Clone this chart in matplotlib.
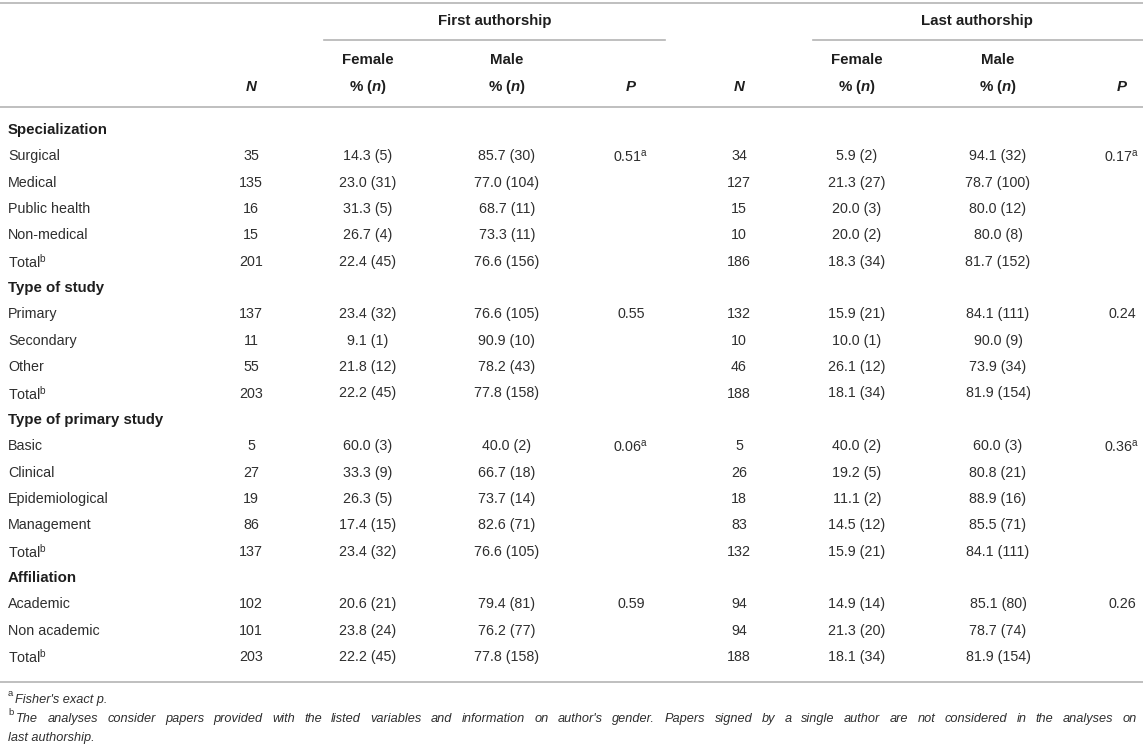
import matplotlib
matplotlib.use("Agg")
import matplotlib.pyplot as plt

plt.rcParams['font.family'] = ['Liberation Sans', 'DejaVu Sans']
plt.rcParams['mathtext.fontset'] = 'custom'
plt.rcParams['mathtext.rm'] = 'Liberation Sans'
plt.rcParams['mathtext.it'] = 'Liberation Sans:italic'
plt.rcParams['mathtext.bf'] = 'Liberation Sans:bold'
plt.rcParams['mathtext.bfit'] = 'Liberation Sans:bold:italic'

# table content
groups = ["First authorship", "Last authorship"]
sub_headers = ["Female", "Male"]

row_labels = ["Specialization", "Surgical", "Medical", "Public health", "Non-medical", "Total^b",
              "Type of study", "Primary", "Secondary", "Other", "Total^b",
              "Type of primary study", "Basic", "Clinical", "Epidemiological", "Management", "Total^b",
              "Affiliation", "Academic", "Non academic", "Total^b"]
section_rows = [0, 6, 11, 17]

n_first = ["", "35", "135", "16", "15", "201", "", "137", "11", "55", "203",
           "", "5", "27", "19", "86", "137", "", "102", "101", "203"]
female_first = ["", "14.3 (5)", "23.0 (31)", "31.3 (5)", "26.7 (4)", "22.4 (45)",
                "", "23.4 (32)", "9.1 (1)", "21.8 (12)", "22.2 (45)",
                "", "60.0 (3)", "33.3 (9)", "26.3 (5)", "17.4 (15)", "23.4 (32)",
                "", "20.6 (21)", "23.8 (24)", "22.2 (45)"]
male_first = ["", "85.7 (30)", "77.0 (104)", "68.7 (11)", "73.3 (11)", "76.6 (156)",
              "", "76.6 (105)", "90.9 (10)", "78.2 (43)", "77.8 (158)",
              "", "40.0 (2)", "66.7 (18)", "73.7 (14)", "82.6 (71)", "76.6 (105)",
              "", "79.4 (81)", "76.2 (77)", "77.8 (158)"]
p_first = ["", "0.51^a", "", "", "", "", "", "0.55", "", "", "",
           "", "0.06^a", "", "", "", "", "", "0.59", "", ""]

n_last = ["", "34", "127", "15", "10", "186", "", "132", "10", "46", "188",
          "", "5", "26", "18", "83", "132", "", "94", "94", "188"]
female_last = ["", "5.9 (2)", "21.3 (27)", "20.0 (3)", "20.0 (2)", "18.3 (34)",
               "", "15.9 (21)", "10.0 (1)", "26.1 (12)", "18.1 (34)",
               "", "40.0 (2)", "19.2 (5)", "11.1 (2)", "14.5 (12)", "15.9 (21)",
               "", "14.9 (14)", "21.3 (20)", "18.1 (34)"]
male_last = ["", "94.1 (32)", "78.7 (100)", "80.0 (12)", "80.0 (8)", "81.7 (152)",
             "", "84.1 (111)", "90.0 (9)", "73.9 (34)", "81.9 (154)",
             "", "60.0 (3)", "80.8 (21)", "88.9 (16)", "85.5 (71)", "84.1 (111)",
             "", "85.1 (80)", "78.7 (74)", "81.9 (154)"]
p_last = ["", "0.17^a", "", "", "", "", "", "0.24", "", "", "",
          "", "0.36^a", "", "", "", "", "", "0.26", "", ""]

note_a = "Fisher's exact p."
note_b = ("The analyses consider papers provided with the listed variables and information on author's gender. "
          "Papers signed by a single author are not considered in the analyses on")
note_b2 = "last authorship."

W, H = 1143, 747
txt = '#2e2e2e'
head = '#1e1e1e'
rule = '#b4b4b4'

fig = plt.figure(figsize=(W / 100, H / 100), dpi=100)
ax = fig.add_axes([0, 0, 1, 1])
ax.set_xlim(0, W)
ax.set_ylim(H, 0)
ax.axis('off')


def fmt(s):
    # turn "x^a" into mathtext superscript
    if '^' in s:
        base, sup = s.split('^')
        return base + r'$^{\mathrm{' + sup + '}}$'
    return s


cols_x = [251, 368, 507, 631, 739, 857, 998, 1122]
columns = [n_first, female_first, male_first, p_first, n_last, female_last, male_last, p_last]

# rules
lw = 1.2
ax.plot([0, W], [3, 3], color=rule, lw=lw)
ax.plot([324, 665], [40, 40], color=rule, lw=lw)
ax.plot([813, W], [40, 40], color=rule, lw=lw)
ax.plot([0, W], [107, 107], color=rule, lw=lw)
ax.plot([0, W], [682, 682], color=rule, lw=lw)

# header
fs = 10.3
fsb = 10.8
ax.text(495, 21, groups[0], ha='center', va='center', fontsize=fsb, fontweight='bold', color=head)
ax.text(977, 21, groups[1], ha='center', va='center', fontsize=fsb, fontweight='bold', color=head)
for i, x in enumerate(cols_x):
    k = i % 4
    if k == 0:
        ax.text(x, 87, 'N', ha='center', va='center', fontsize=fsb, fontweight='bold',
                style='italic', color=head)
    elif k == 3:
        ax.text(x, 87, 'P', ha='center', va='center', fontsize=fsb, fontweight='bold',
                style='italic', color=head)
    else:
        ax.text(x, 60, sub_headers[k - 1], ha='center', va='center', fontsize=fsb,
                fontweight='bold', color=head)
        ax.text(x, 87, r'% ($\mathbfit{n}$)', ha='center', va='center', fontsize=fsb,
                fontweight='bold', color=head)

# body
y0, dy = 130, 26.35
for r, lab in enumerate(row_labels):
    y = y0 + r * dy
    if r in section_rows:
        ax.text(8, y, lab, ha='left', va='center', fontsize=fsb, fontweight='bold', color=head)
    else:
        ax.text(8, y, fmt(lab), ha='left', va='center', fontsize=fs, color=txt)
    for x, col in zip(cols_x, columns):
        if col[r]:
            ax.text(x, y, fmt(col[r]), ha='center', va='center', fontsize=fs, color=txt)

# footnotes
fn = 9.2
ax.text(8, 698, 'a', ha='left', va='bottom', fontsize=6.8, color=txt)
ax.text(15, 700, note_a, ha='left', va='center', fontsize=fn, style='italic', color=txt)
ax.text(8, 717, 'b', ha='left', va='bottom', fontsize=6.8, color=txt)

# justify the long footnote line word by word
fig.canvas.draw()
renderer = fig.canvas.get_renderer()
inv = ax.transData.inverted()
words = note_b.split(' ')
items = []
total = 0.0
for w in words:
    t = ax.text(0, 719, w, ha='left', va='center', fontsize=fn, style='italic', color=txt)
    bb = t.get_window_extent(renderer)
    wd = inv.transform((bb.x1, 0))[0] - inv.transform((bb.x0, 0))[0]
    items.append((t, wd))
    total += wd
x_start, x_end = 16, 1137
gap = (x_end - x_start - total) / (len(words) - 1)
x = x_start
for t, wd in items:
    t.set_x(x)
    x += wd + gap
ax.text(8, 738, note_b2, ha='left', va='center', fontsize=fn, style='italic', color=txt)

fig.savefig('out.png', dpi=100)
